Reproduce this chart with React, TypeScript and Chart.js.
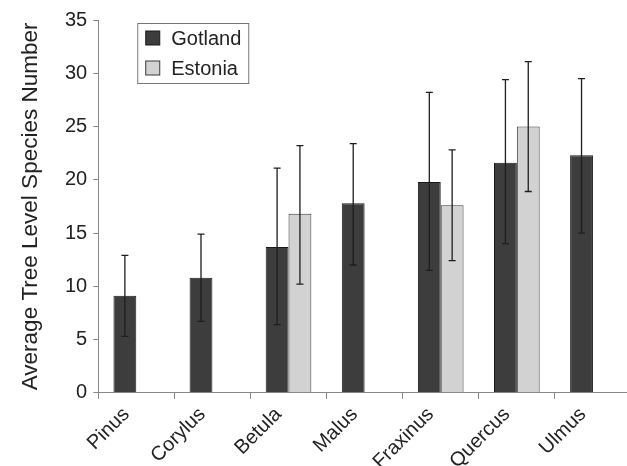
import React, { useEffect, useRef } from "react";
import { Chart, registerables } from "chart.js";

Chart.register(...registerables);

const categories = ["Pinus", "Corylus", "Betula", "Malus", "Fraxinus", "Quercus", "Ulmus"];
const gotland = [9.1, 10.8, 13.7, 17.8, 19.8, 21.6, 22.3];
const gotlandHigh = [12.9, 14.9, 21.1, 23.4, 28.2, 29.4, 29.5];
const gotlandLow = [5.3, 6.7, 6.4, 12.0, 11.5, 14.0, 15.0];
const estonia = [null, null, 16.8, null, 17.6, 25.0, null];
const estoniaHigh = [null, null, 23.2, null, 22.8, 31.1, null];
const estoniaLow = [null, null, 10.2, null, 12.4, 18.9, null];
const yTicks = [0, 5, 10, 15, 20, 25, 30, 35];

const seriesNames = ["Gotland", "Estonia"];
const fills = ["#3d3d3d", "#d2d2d2"];
const borders = ["#1a1a1a", "#3a3a3a"];
const FONT = "'Liberation Sans', Arial, Helvetica, sans-serif";

const errorBars = {
  id: "errorBars",
  afterDatasetsDraw(chart: any) {
    const ctx = chart.ctx;
    const yScale = chart.scales.y;
    const hi = [gotlandHigh, estoniaHigh];
    const lo = [gotlandLow, estoniaLow];
    ctx.save();
    ctx.strokeStyle = "#1e1e1e";
    ctx.lineWidth = 1.3;
    for (let d = 0; d < 2; d++) {
      const meta = chart.getDatasetMeta(d);
      meta.data.forEach((el: any, i: number) => {
        const h = hi[d][i];
        const l = lo[d][i];
        if (h == null || l == null) return;
        const x = el.x;
        const yh = yScale.getPixelForValue(h);
        const yl = yScale.getPixelForValue(l);
        ctx.beginPath();
        ctx.moveTo(x, yh);
        ctx.lineTo(x, yl);
        ctx.moveTo(x - 3.5, yh);
        ctx.lineTo(x + 3.5, yh);
        ctx.moveTo(x - 3.5, yl);
        ctx.lineTo(x + 3.5, yl);
        ctx.stroke();
      });
    }
    ctx.restore();
  },
};

const boxLegend = {
  id: "boxLegend",
  afterDraw(chart: any) {
    const ctx = chart.ctx;
    const area = chart.chartArea;
    const left = area.left + 39;
    const top = area.top + 3;
    const w = 111;
    const h = 60;
    ctx.save();
    ctx.fillStyle = "#ffffff";
    ctx.fillRect(left, top, w, h);
    ctx.strokeStyle = "#777777";
    ctx.lineWidth = 1;
    ctx.strokeRect(left + 0.5, top + 0.5, w, h);
    ctx.font = `20px ${FONT}`;
    ctx.textBaseline = "middle";
    ctx.textAlign = "left";
    seriesNames.forEach((name, i) => {
      const cy = top + 15 + i * 30;
      ctx.fillStyle = fills[i];
      ctx.fillRect(left + 8.5, cy - 7, 14, 14);
      ctx.strokeStyle = borders[i];
      ctx.strokeRect(left + 8.5, cy - 7, 14, 14);
      ctx.fillStyle = "#222222";
      ctx.fillText(name, left + 34, cy + 1);
    });
    ctx.restore();
  },
};

export default function App() {
  const ref = useRef<HTMLCanvasElement | null>(null);
  useEffect(() => {
    if (!ref.current) return;
    const chart = new Chart(ref.current, {
      type: "bar",
      data: {
        labels: categories,
        datasets: [
          {
            label: seriesNames[0],
            data: gotland,
            backgroundColor: fills[0],
            borderColor: borders[0],
            borderWidth: 1,
          },
          {
            label: seriesNames[1],
            data: estonia as any,
            backgroundColor: fills[1],
            borderColor: borders[1],
            borderWidth: 1,
          },
        ],
      },
      options: {
        animation: false,
        responsive: false,
        maintainAspectRatio: false,
        layout: { padding: { left: 17, top: 20, right: 0, bottom: 0 } },
        plugins: { legend: { display: false }, tooltip: { enabled: false } },
        datasets: { bar: { categoryPercentage: 0.6, barPercentage: 1.0 } },
        scales: {
          x: {
            grid: { drawOnChartArea: false, tickLength: 6, color: "#888888", offset: true },
            border: { color: "#888888", width: 1 },
            ticks: {
              font: { size: 20, family: FONT },
              color: "#222222",
              maxRotation: 45,
              minRotation: 45,
              labelOffset: -10,
              padding: 4,
              autoSkip: false,
            },
          },
          y: {
            min: 0,
            max: 35,
            afterBuildTicks: (scale: any) => {
              scale.ticks = yTicks.map((v) => ({ value: v }));
            },
            grid: { drawOnChartArea: false, tickLength: 5, color: "#888888" },
            border: { color: "#888888", width: 1 },
            ticks: {
              font: { size: 20, family: FONT },
              color: "#222222",
              padding: 6,
            },
            title: {
              display: true,
              text: "Average Tree Level Species Number",
              font: { size: 22.5, family: FONT },
              color: "#222222",
              padding: { top: 0, bottom: 15 },
            },
          },
        },
      },
      plugins: [errorBars, boxLegend],
    });
    return () => chart.destroy();
  }, []);
  return (
    <div
      style={{
        position: "fixed",
        left: 0,
        top: 0,
        width: 627,
        height: 466,
        overflow: "hidden",
        background: "#ffffff",
      }}
    >
      <canvas ref={ref} width={631} height={478} style={{ display: "block", width: 631, height: 478 }} />
    </div>
  );
}
